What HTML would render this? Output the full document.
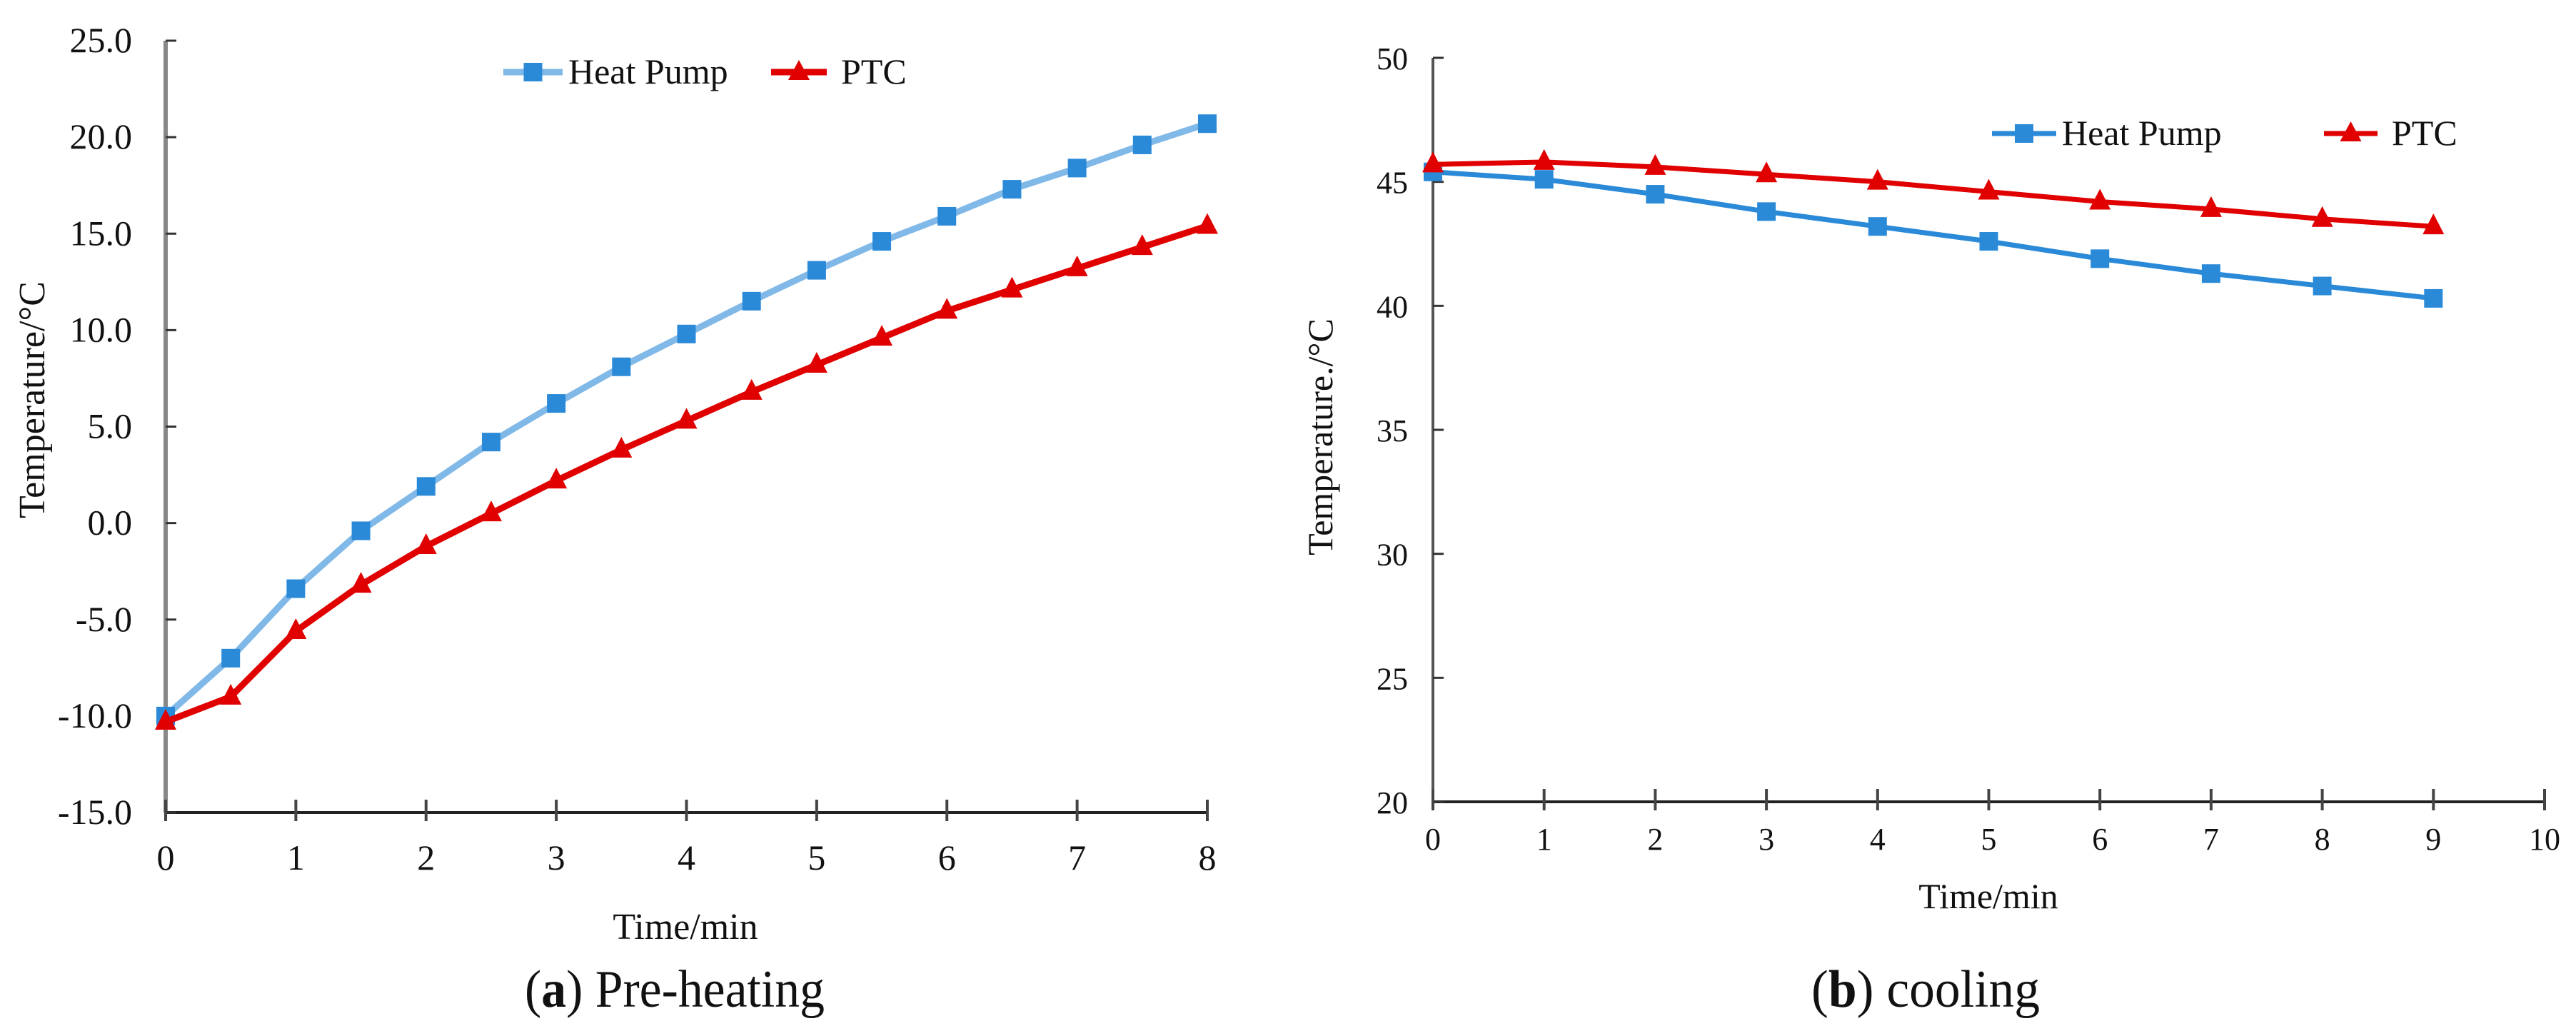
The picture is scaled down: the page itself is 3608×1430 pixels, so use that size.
<!DOCTYPE html>
<html><head><meta charset="utf-8"><style>
body{margin:0;background:#fff;overflow:hidden}
svg{display:block}
text{font-family:"Liberation Serif",serif;fill:#111}
</style></head><body>
<svg id="s" width="3608" height="1430" xmlns="http://www.w3.org/2000/svg"></svg>
<script>
const aX = [0,0.5,1,1.5,2,2.5,3,3.5,4,4.5,5,5.5,6,6.5,7,7.5,8];
const aHP = [-10,-7.0,-3.4,-0.4,1.9,4.2,6.2,8.1,9.8,11.5,13.1,14.6,15.9,17.3,18.4,19.6,20.7];
const aPTC = [-10.3,-9.0,-5.6,-3.2,-1.2,0.5,2.2,3.8,5.3,6.8,8.2,9.6,11.0,12.1,13.2,14.3,15.4];
const aYTicks = [-15,-10,-5,0,5,10,15,20,25];
const aXTicks = [0,1,2,3,4,5,6,7,8];
const bX = [0,1,2,3,4,5,6,7,8,9];
const bHP = [45.4,45.1,44.5,43.8,43.2,42.6,41.9,41.3,40.8,40.3];
const bPTC = [45.7,45.8,45.6,45.3,45.0,44.6,44.2,43.9,43.5,43.2];
const bYTicks = [20,25,30,35,40,45,50];
const bXTicks = [0,1,2,3,4,5,6,7,8,9,10];

const NS="http://www.w3.org/2000/svg", S=document.getElementById('s');
function mk(t,a,p){const e=document.createElementNS(NS,t);for(const k in a)e.setAttribute(k,a[k]);(p||S).appendChild(e);return e;}
function txt(x,y,s,size,anchor,extra){const e=mk('text',Object.assign({x:x,y:y,'font-size':size,'text-anchor':anchor||'middle'},extra||{}));e.textContent=s;return e;}

function chart(o){
  const g=mk('g',{});
  
  
  const sx=v=>o.x0+(v-o.xmin)/(o.xmax-o.xmin)*(o.x1-o.x0);
  const sy=v=>o.y0-(v-o.ymin)/(o.ymax-o.ymin)*(o.y0-o.y1);
  const ya=mk('line',{x1:o.x0,y1:o.y1,x2:o.x0,y2:o.y0,stroke:o.yaxisColor,'stroke-width':o.yaxisW},g);
  
  const xa=mk('line',{x1:o.x0,y1:o.y0,x2:sx(o.xmax),y2:o.y0,stroke:'#222','stroke-width':4},g);
  
  o.yt.forEach(v=>{
    mk('line',{x1:o.x0,y1:sy(v),x2:o.x0+15,y2:sy(v),stroke:'#333','stroke-width':3},g);
    const t=txt(o.ylx,sy(v)+16,o.yfmt(v),o.fs,'end',{});
    
  });
  o.xt.forEach(v=>{
    mk('line',{x1:sx(v),y1:o.y0-18,x2:sx(v),y2:o.y0+12,stroke:'#444','stroke-width':4},g);
    const t=txt(sx(v),o.xly,String(v),o.fs,'middle',{});
    
  });
  function series(xs,ys,lc,mc,lw,kind,nm){
    const pts=xs.map((x,i)=>sx(x)+','+sy(ys[i])).join(' ');
    const l=mk('polyline',{points:pts,fill:'none',stroke:lc,'stroke-width':lw,'stroke-linejoin':'round'},g);
    
    xs.forEach((x,i)=>{
      const cx=sx(x),cy=sy(ys[i]);let m;
      if(kind==='sq')m=mk('rect',{x:cx-13,y:cy-13,width:26,height:26,fill:mc},g);
      else m=mk('polygon',{points:(cx)+','+(cy-18)+' '+(cx-15)+','+(cy+11)+' '+(cx+15)+','+(cy+11),fill:mc},g);
      
    });
  }
  series(o.xs,o.hp,o.hpLine,'#2a8ad8',o.lw,'sq','heat-pump');
  series(o.xs,o.ptc,'#e00000','#e00000',o.lw,'tri','ptc');
  const L=o.leg;
  const lg=mk('g',{},g);
  mk('line',{x1:L.x1,y1:L.y,x2:L.x2,y2:L.y,stroke:o.hpLine,'stroke-width':o.lw},lg);
  mk('rect',{x:(L.x1+L.x2)/2-13,y:L.y-13,width:26,height:26,fill:'#2a8ad8'},lg);
  txt(L.x2+8,L.y+16,'Heat Pump',o.lfs,'start',{});
  mk('line',{x1:L.x3,y1:L.y,x2:L.x4,y2:L.y,stroke:'#e00000','stroke-width':o.lw},lg);
  const c=(L.x3+L.x4)/2;
  mk('polygon',{points:c+','+(L.y-17)+' '+(c-15)+','+(L.y+11)+' '+(c+15)+','+(L.y+11),fill:'#e00000'},lg);
  txt(L.x4+20,L.y+16,'PTC',o.lfs,'start',{});
  const yt=txt(o.ytx,o.yty,o.ytitle,o.tfs,'middle',{transform:'rotate(-90 '+o.ytx+' '+o.yty+')'});
  
  const xt=txt(o.xtx,o.xty,'Time/min',o.tfs,'middle',{});
  
}
chart({name:'chart-preheating',x0:232,x1:1691,xmin:0,xmax:8,y0:1138,y1:57,ymin:-15,ymax:25,
  yt:aYTicks,xt:aXTicks,yfmt:v=>v.toFixed(1),ylx:185,xly:1218,fs:50,xs:aX,hp:aHP,ptc:aPTC,
  hpLine:'#80b8e8',lw:9,yaxisColor:'#888',yaxisW:6,
  leg:{x1:705,x2:788,x3:1080,x4:1158,y:101},lfs:50,
  ytitle:'Temperature/°C',ytx:62,yty:560,xtx:960,xty:1315,tfs:52});
chart({name:'chart-cooling',x0:2007,x1:3564,xmin:0,xmax:10,y0:1123,y1:81,ymin:20,ymax:50,
  yt:bYTicks,xt:bXTicks,yfmt:v=>String(v),ylx:1972,xly:1190,fs:44,xs:bX,hp:bHP,ptc:bPTC,
  hpLine:'#2a8ad8',lw:7,yaxisColor:'#555',yaxisW:4,
  leg:{x1:2790,x2:2880,x3:3255,x4:3330,y:187},lfs:50,
  ytitle:'Temperature./°C',ytx:1866,yty:612,xtx:2785,xty:1272,tfs:50});
const c1=txt(945,1410,'',74,'middle',{textLength:420,lengthAdjust:'spacingAndGlyphs'});

c1.innerHTML='(<tspan font-weight="bold">a</tspan>) Pre-heating';
const c2=txt(2697,1410,'',74,'middle',{textLength:320,lengthAdjust:'spacingAndGlyphs'});

c2.innerHTML='(<tspan font-weight="bold">b</tspan>) cooling';
</script>
</body></html>
